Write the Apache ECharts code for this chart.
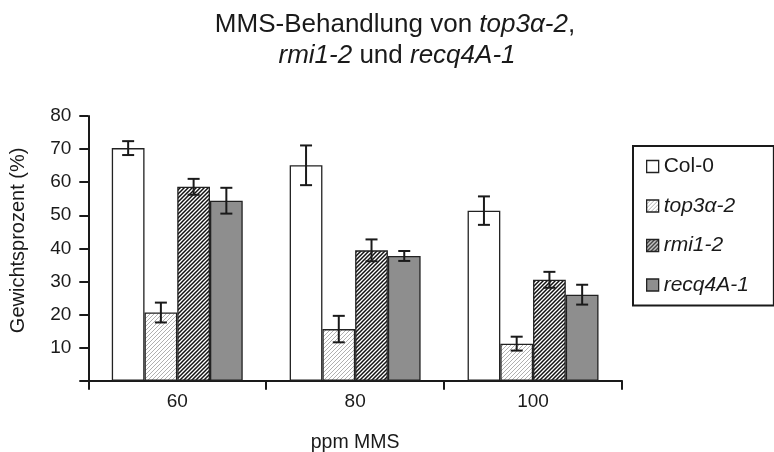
<!DOCTYPE html>
<html>
<head>
<meta charset="utf-8">
<script src="https://cdn.jsdelivr.net/npm/echarts@6/dist/echarts.min.js"></script>
<style>
  html, body { margin: 0; padding: 0; background: #fff; }
  #chart { width: 774px; height: 452px; }
</style>
</head>
<body>
<div id="chart"></div>
<script>
const categories = ["60", "80", "100"];
const seriesNames = ["Col-0", "top3α-2", "rmi1-2", "recq4A-1"];

const col0 = [70.3, 65.1, 51.4];
const col0Err = [2.1, 6.0, 4.3];
const top3 = [20.6, 15.6, 11.2];
const top3Err = [3.0, 4.0, 2.1];
const rmi = [58.6, 39.4, 30.5];
const rmiErr = [2.4, 3.3, 2.4];
const recq = [54.4, 37.7, 26.0];
const recqErr = [3.9, 1.5, 3.0];

const yTicks = [0, 10, 20, 30, 40, 50, 60, 70, 80];

const FONT = "'Liberation Sans', Arial, sans-serif";
const INK = "#1a1a1a";

// diagonal "///" hatch tile
function hatch(size, lineW, fg, bg) {
  const c = document.createElement("canvas");
  c.width = c.height = size;
  const g = c.getContext("2d");
  g.fillStyle = bg;
  g.fillRect(0, 0, size, size);
  g.strokeStyle = fg;
  g.lineWidth = lineW;
  g.beginPath();
  g.moveTo(0, size); g.lineTo(size, 0);
  g.moveTo(-size / 2, size / 2); g.lineTo(size / 2, -size / 2);
  g.moveTo(size / 2, size * 1.5); g.lineTo(size * 1.5, size / 2);
  g.stroke();
  return c;
}

const fills = [
  "#ffffff",
  { image: hatch(4, 1, "#b0b0b0", "#ffffff"), repeat: "repeat" },
  { image: hatch(4, 1.5, "#111111", "#ffffff"), repeat: "repeat" },
  "#8e8e8e",
];
const values = [col0, top3, rmi, recq];
const errors = [col0Err, top3Err, rmiErr, recqErr];

const BAR_PCT = 0.184;

const chart = echarts.init(document.getElementById("chart"));

const barSeries = seriesNames.map((name, i) => ({
  name: name,
  type: "bar",
  data: values[i],
  barWidth: (BAR_PCT * 100) + "%",
  barGap: "0%",
  itemStyle: { color: fills[i], borderColor: "#222", borderWidth: 1.3 },
  emphasis: { disabled: true },
  z: 2,
}));

const errSeries = seriesNames.map((name, i) => ({
  name: "err-" + name,
  type: "custom",
  z: 5,
  data: values[i].map((v, k) => [k, v, errors[i][k]]),
  renderItem: (params, api) => {
    const k = api.value(0);
    const v = api.value(1);
    const e = api.value(2);
    const catW = api.size([1, 0])[0];
    const bw = catW * BAR_PCT;
    const x = api.coord([k, v])[0] + (i - 1.5) * bw;
    const yHi = api.coord([k, v + e])[1];
    const yLo = api.coord([k, v - e])[1];
    const cap = 6;
    const style = { stroke: INK, lineWidth: 2, fill: null };
    return {
      type: "group",
      children: [
        { type: "line", shape: { x1: x, y1: yHi, x2: x, y2: yLo }, style },
        { type: "line", shape: { x1: x - cap, y1: yHi, x2: x + cap, y2: yHi }, style },
        { type: "line", shape: { x1: x - cap, y1: yLo, x2: x + cap, y2: yLo }, style },
      ],
    };
  },
}));

const titleRich = {
  n: { fontFamily: FONT, fontSize: 26, color: INK, fontWeight: "normal" },
  i: { fontFamily: FONT, fontSize: 26, color: INK, fontWeight: "normal", fontStyle: "italic" },
};

chart.setOption({
  animation: false,
  title: [
    {
      text: "{n|MMS-Behandlung von }{i|top3α-2}{n|,}",
      left: 395,
      top: 12,
      padding: 0,
      textAlign: "center",
      textStyle: { fontWeight: "normal", rich: titleRich },
    },
    {
      text: "{i|rmi1-2}{n| und }{i|recq4A-1}",
      left: 397,
      top: 43,
      padding: 0,
      textAlign: "center",
      textStyle: { fontWeight: "normal", rich: titleRich },
    },
  ],
  legend: {
    data: seriesNames,
    orient: "vertical",
    left: 633,
    top: 146,
    padding: [10, 25, 10, 13],
    icon: "rect",
    itemWidth: 12,
    itemHeight: 12,
    itemGap: 18.5,
    itemTextGap: 8,
    borderColor: INK,
    borderWidth: 2,
    itemStyle: { borderColor: "#222", borderWidth: 1.3 },
    formatter: (name) => (name === "Col-0" ? "{n|" + name + "}" : "{i|" + name + "}"),
    textStyle: {
      rich: {
        n: { fontFamily: FONT, fontSize: 21, color: INK },
        i: { fontFamily: FONT, fontSize: 21, color: INK, fontStyle: "italic" },
      },
    },
  },
  grid: {
    left: 88.3,
    right: 152,
    top: 116,
    bottom: 71.3,
    containLabel: false,
    outerBoundsMode: "none",
  },
  xAxis: {
    type: "category",
    data: categories,
    boundaryGap: true,
    name: "ppm MMS",
    nameLocation: "middle",
    nameGap: 52,
    nameTextStyle: { fontFamily: FONT, fontSize: 19.5, color: INK },
    axisLine: { lineStyle: { color: INK, width: 2 } },
    axisTick: { show: true, alignWithLabel: false, length: 9, lineStyle: { color: INK, width: 2 } },
    axisLabel: { fontFamily: FONT, fontSize: 19, color: INK, margin: 12 },
    splitLine: { show: false },
  },
  yAxis: {
    type: "value",
    min: yTicks[0],
    max: yTicks[yTicks.length - 1],
    interval: 10,
    name: "Gewichtsprozent (%)",
    nameLocation: "middle",
    nameGap: 60,
    nameTextStyle: { fontFamily: FONT, fontSize: 20, color: INK, padding: [0, 0, 0, 16] },
    axisLine: { show: true, lineStyle: { color: INK, width: 2 } },
    axisTick: { show: true, length: 9, lineStyle: { color: INK, width: 2 } },
    axisLabel: {
      fontFamily: FONT,
      fontSize: 19,
      color: INK,
      margin: 17,
      formatter: (v) => (v === 0 ? "" : String(v)),
    },
    splitLine: { show: false },
  },
  series: barSeries.concat(errSeries),
});
</script>
</body>
</html>
